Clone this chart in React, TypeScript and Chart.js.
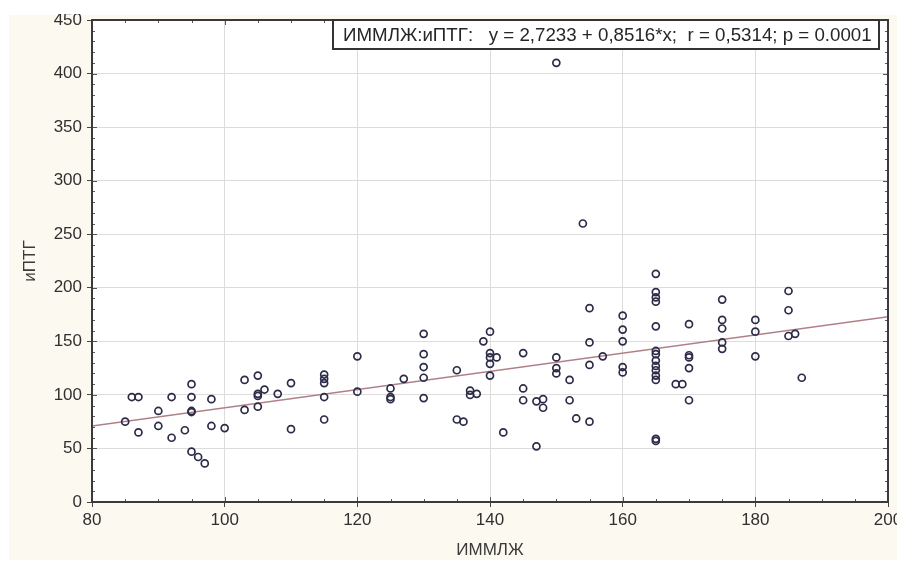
import React, { useEffect, useRef } from "react";
import { Chart, registerables } from "chart.js";

Chart.register(...registerables);

// ИММЛЖ (x) values
const X_VALUES = [
  85, 86, 87, 87, 90, 90, 92, 92, 94, 95, 95, 95, 95, 95, 96, 97, 98, 98, 100,
  103, 103, 105, 105, 105, 105, 106, 108, 110, 110,
  115, 115, 115, 115, 115, 120, 120, 125, 125, 125, 127,
  130, 130, 130, 130, 130, 135, 135, 136, 137, 137, 138, 139,
  140, 140, 140, 140, 140, 141, 142, 145, 145, 145, 147, 147, 148, 148,
  150, 150, 150, 150, 152, 152, 153, 154, 155, 155, 155, 155, 157,
  160, 160, 160, 160, 160,
  165, 165, 165, 165, 165, 165, 165, 165, 165, 165, 165, 165, 165, 165,
  168, 169, 170, 170, 170, 170, 170,
  175, 175, 175, 175, 175, 180, 180, 180, 185, 185, 185, 186, 187,
];
// иПТГ (y) values
const Y_VALUES = [
  75, 98, 98, 65, 85, 71, 98, 60, 67, 110, 98, 85, 84, 47, 42, 36, 96, 71, 69,
  114, 86, 118, 101, 99, 89, 105, 101, 111, 68,
  119, 115, 111, 98, 77, 136, 103, 106, 98, 96, 115,
  157, 138, 126, 116, 97, 123, 77, 75, 104, 100, 101, 150,
  159, 139, 135, 129, 118, 135, 65, 139, 106, 95, 94, 52, 96, 88,
  410, 135, 125, 120, 114, 95, 78, 260, 181, 149, 128, 75, 136,
  174, 161, 150, 126, 121,
  213, 196, 191, 187, 164, 141, 138, 132, 127, 123, 118, 114, 59, 57,
  110, 110, 166, 137, 135, 125, 95,
  189, 170, 162, 149, 143, 170, 159, 136, 197, 179, 155, 157, 116,
];

const X_TICKS = [80, 100, 120, 140, 160, 180, 200];
const Y_TICKS = [0, 50, 100, 150, 200, 250, 300, 350, 400, 450];

// Regression shown in the legend box
const INTERCEPT = 2.7233;
const SLOPE = 0.8516;
const LINE_X = [80, 200];

const LEGEND_TEXT = "ИММЛЖ:иПТГ:   y = 2,7233 + 0,8516*x;  r = 0,5314; p = 0.0001";
const X_TITLE = "ИММЛЖ";
const Y_TITLE = "иПТГ";

const FONT = "'Liberation Sans', Arial, sans-serif";

const framePlugin = {
  id: "framePlugin",
  beforeDraw(chart: any) {
    const { ctx, chartArea: a, width, height } = chart;
    ctx.save();
    ctx.fillStyle = "#ffffff";
    ctx.fillRect(0, 0, width, height);
    ctx.fillStyle = "#fbf9f0";
    ctx.fillRect(9, 15, width - 9, height - 19);
    ctx.fillStyle = "#ffffff";
    ctx.fillRect(a.left, a.top, a.right - a.left, a.bottom - a.top);
    ctx.restore();
  },
  afterDraw(chart: any) {
    const { ctx, chartArea: a, scales, width } = chart;
    ctx.save();
    // minor ticks inside the frame
    ctx.strokeStyle = "#555555";
    ctx.lineWidth = 1;
    const xs = scales.x;
    const ys = scales.y;
    for (let v = 85; v < 200; v += 5) {
      const px = Math.round(xs.getPixelForValue(v)) + 0.5;
      const len = v % 20 === 0 ? 5 : 3;
      ctx.beginPath();
      ctx.moveTo(px, a.bottom);
      ctx.lineTo(px, a.bottom - len);
      ctx.moveTo(px, a.top);
      ctx.lineTo(px, a.top + len);
      ctx.stroke();
    }
    for (let v = 10; v < 450; v += 10) {
      const py = Math.round(ys.getPixelForValue(v)) + 0.5;
      const len = v % 50 === 0 ? 5 : 3;
      ctx.beginPath();
      ctx.moveTo(a.left, py);
      ctx.lineTo(a.left + len, py);
      ctx.moveTo(a.right, py);
      ctx.lineTo(a.right - len, py);
      ctx.stroke();
    }
    // frame
    ctx.strokeStyle = "#3a3a3a";
    ctx.lineWidth = 2;
    ctx.strokeRect(a.left, a.top, a.right - a.left, a.bottom - a.top);

    // white strip at the very top (the picture is cropped there)
    ctx.fillStyle = "#ffffff";
    ctx.fillRect(0, 0, width, 14);

    // legend box with regression text
    const target = 529;
    ctx.font = `16px ${FONT}`;
    const w16 = ctx.measureText(LEGEND_TEXT).width;
    const fs = (16 * target) / w16;
    ctx.font = `${fs.toFixed(2)}px ${FONT}`;
    const boxRight = a.right - 9;
    const boxLeft = boxRight - target - 17;
    const boxTop = a.top;
    const boxBottom = a.top + 29;
    ctx.fillStyle = "#ffffff";
    ctx.fillRect(boxLeft, boxTop, boxRight - boxLeft, boxBottom - boxTop);
    ctx.strokeStyle = "#333333";
    ctx.lineWidth = 2;
    ctx.strokeRect(boxLeft, boxTop, boxRight - boxLeft, boxBottom - boxTop);
    ctx.fillStyle = "#262626";
    ctx.textBaseline = "middle";
    ctx.textAlign = "left";
    ctx.fillText(LEGEND_TEXT, boxLeft + 10, (boxTop + boxBottom) / 2 + 1);
    ctx.restore();
  },
};

export default function App() {
  const canvasRef = useRef<HTMLCanvasElement | null>(null);

  useEffect(() => {
    const canvas = canvasRef.current;
    if (!canvas) return;
    const points = X_VALUES.map((x, i) => ({ x, y: Y_VALUES[i] }));
    const linePts = LINE_X.map((x) => ({ x, y: INTERCEPT + SLOPE * x }));

    const chart = new Chart(canvas, {
      type: "scatter",
      data: {
        datasets: [
          {
            type: "scatter",
            label: "points",
            data: points,
            pointStyle: "circle",
            pointRadius: 3.5,
            pointBorderWidth: 1.7,
            pointBackgroundColor: "rgba(0,0,0,0)",
            pointBorderColor: "#2c2c48",
            order: 0,
          },
          {
            type: "line",
            label: "fit",
            data: linePts,
            borderColor: "#b08088",
            borderWidth: 1.5,
            pointRadius: 0,
            fill: false,
            order: 1,
          },
        ],
      },
      options: {
        animation: false,
        responsive: false,
        devicePixelRatio: 1,
        layout: { padding: { top: 20, right: 9, left: 0, bottom: 0 } },
        plugins: {
          legend: { display: false },
          tooltip: { enabled: false },
        },
        scales: {
          x: {
            type: "linear",
            min: 80,
            max: 200,
            afterBuildTicks: (scale: any) => {
              scale.ticks = X_TICKS.map((v) => ({ value: v }));
            },
            afterFit: (scale: any) => {
              scale.height = 62;
              scale.paddingLeft = 0;
              scale.paddingRight = 0;
            },
            ticks: {
              color: "#303030",
              font: { family: FONT, size: 17 },
              padding: 3,
              maxRotation: 0,
              autoSkip: false,
            },
            grid: {
              color: "#dcdcdc",
              lineWidth: 1,
              tickColor: "#444444",
              tickLength: 5,
            },
            border: { color: "#3a3a3a", width: 2 },
            title: {
              display: true,
              text: X_TITLE,
              color: "#3a3a3a",
              font: { family: FONT, size: 17 },
              padding: { top: 0, bottom: 3 },
            },
          },
          y: {
            type: "linear",
            min: 0,
            max: 450,
            afterBuildTicks: (scale: any) => {
              scale.ticks = Y_TICKS.map((v) => ({ value: v }));
            },
            afterFit: (scale: any) => {
              scale.width = 92;
              scale.paddingTop = 0;
              scale.paddingBottom = 0;
            },
            ticks: {
              color: "#303030",
              font: { family: FONT, size: 17 },
              padding: 5,
              autoSkip: false,
            },
            grid: {
              color: "#dcdcdc",
              lineWidth: 1,
              tickColor: "#444444",
              tickLength: 5,
            },
            border: { color: "#3a3a3a", width: 2 },
            title: {
              display: true,
              text: Y_TITLE,
              color: "#3a3a3a",
              font: { family: FONT, size: 17 },
              padding: { top: 20, bottom: 0 },
            },
          },
        },
      },
      plugins: [framePlugin],
    });
    return () => chart.destroy();
  }, []);

  return (
    <div style={{ position: "fixed", left: 0, top: 0, width: 897, height: 564 }}>
      <canvas ref={canvasRef} width={897} height={564} style={{ display: "block", width: 897, height: 564 }} />
    </div>
  );
}
